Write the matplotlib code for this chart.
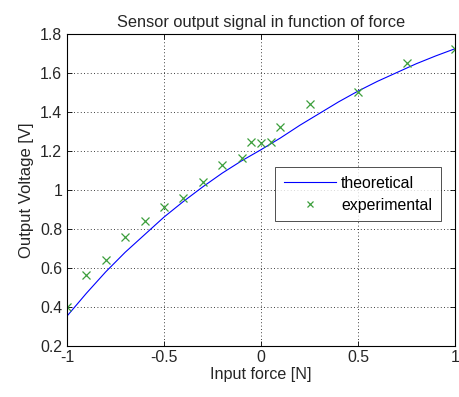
import matplotlib
matplotlib.use("Agg")
import matplotlib.pyplot as plt
import numpy as np

plt.rcParams['font.family'] = ['Liberation Sans', 'DejaVu Sans']

# theoretical curve
theo_x = [-1.0, -0.9, -0.8, -0.7, -0.6, -0.5, -0.4, -0.3, -0.2, -0.1, 0.0,
          0.1, 0.2, 0.3, 0.4, 0.5, 0.6, 0.7, 0.8, 0.9, 1.0]
theo_y = [0.353, 0.47, 0.58, 0.68, 0.77, 0.86, 0.94, 1.015, 1.085, 1.148, 1.205,
          1.265, 1.33, 1.39, 1.45, 1.505, 1.555, 1.60, 1.645, 1.685, 1.722]

# experimental points
exp_x = [-1.0, -0.9, -0.8, -0.7, -0.6, -0.5, -0.4, -0.3, -0.2, -0.1, -0.05,
         0.0, 0.05, 0.1, 0.25, 0.5, 0.75, 1.0]
exp_y = [0.40, 0.565, 0.64, 0.76, 0.84, 0.912, 0.96, 1.04, 1.125, 1.165, 1.244,
         1.24, 1.244, 1.32, 1.44, 1.50, 1.65, 1.722]

xticks = [-1, -0.5, 0, 0.5, 1]
xticklabels = ['-1', '-0.5', '0', '0.5', '1']
yticks = [0.2, 0.4, 0.6, 0.8, 1.0, 1.2, 1.4, 1.6, 1.8]
yticklabels = ['0.2', '0.4', '0.6', '0.8', '1', '1.2', '1.4', '1.6', '1.8']

FS = 11.4
TXT = '#262626'

fig = plt.figure(figsize=(4.59, 3.97), dpi=100)
ax = fig.add_axes([67/459, 1-346/397, (455-67)/459, (346-33.5)/397])

ax.plot(theo_x, theo_y, color='#0000ff', lw=0.8, label='theoretical')
ax.plot(exp_x, exp_y, linestyle='none', marker='x', color='#3c9e3c',
        markersize=6, markeredgewidth=0.9, label='experimental')

ax.set_xlim(-1, 1)
ax.set_ylim(0.2, 1.8)
ax.set_xticks(xticks)
ax.set_xticklabels(xticklabels)
ax.set_yticks(yticks)
ax.set_yticklabels(yticklabels)
ax.grid(True, color='black', linestyle=(0, (1, 3)), linewidth=0.6)
ax.tick_params(direction='in', length=3.5, width=0.6, top=True, right=True,
               labelsize=FS, colors='black', labelcolor=TXT)
ax.tick_params(axis='x', pad=3)
ax.tick_params(axis='y', pad=3.5)
for s in ax.spines.values():
    s.set_linewidth(0.8)
    s.set_color('black')

ax.set_title('Sensor output signal in function of force', fontsize=FS + 0.4,
             color=TXT, pad=5)
ax.set_xlabel('Input force [N]', fontsize=FS + 0.2, color=TXT, labelpad=1)
ax.set_ylabel('Output Voltage [V]', fontsize=FS + 0.6, color=TXT, labelpad=4)

leg = ax.legend(loc='upper left', bbox_to_anchor=((275-67)/388, 1-(167.3-33.5)/312.5),
                fontsize=FS, frameon=True, fancybox=False, edgecolor='black',
                handlelength=3.3, handletextpad=0.33, borderpad=0.55,
                labelspacing=0.42, borderaxespad=0, markerscale=0.8)
leg.get_frame().set_linewidth(0.6)

fig.savefig('out.png', dpi=100)
